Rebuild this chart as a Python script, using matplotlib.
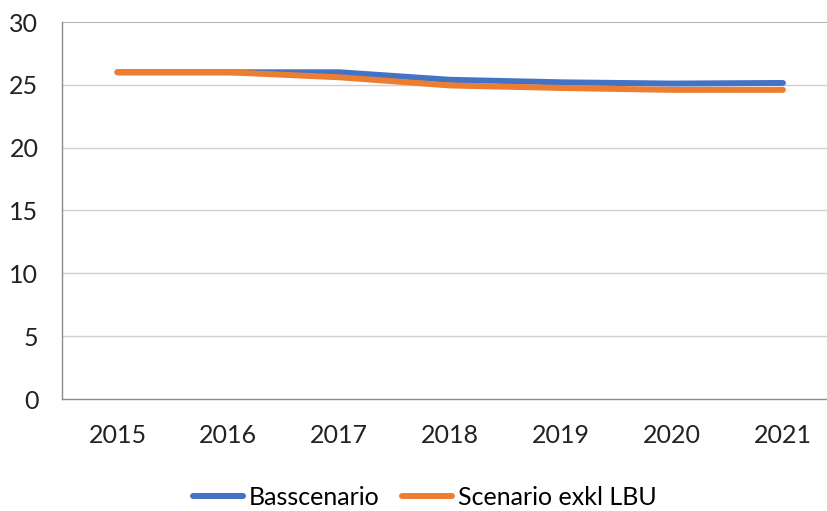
import matplotlib
matplotlib.use("Agg")
import matplotlib.pyplot as plt
from matplotlib.lines import Line2D

years = ["2015", "2016", "2017", "2018", "2019", "2020", "2021"]
basscenario = [26.0, 26.0, 26.0, 25.4, 25.2, 25.1, 25.15]
exkl_lbu = [26.0, 26.0, 25.6, 24.95, 24.75, 24.6, 24.6]
yticks = [0, 5, 10, 15, 20, 25, 30]

plt.rcParams['font.family'] = ['Lato', 'DejaVu Sans']

fig = plt.figure(figsize=(8.27, 5.11), dpi=100)
ax = fig.add_axes([62/827, (511-399)/511, 776.4/827, 377/511])

x = list(range(len(years)))
ax.plot(x, basscenario, color='#4472C4', lw=4.3, solid_capstyle='round', zorder=3)
ax.plot(x, exkl_lbu, color='#ED7D31', lw=4.3, solid_capstyle='round', zorder=4)

fs = 18
ax.set_xlim(-0.5, len(years) - 0.5)
ax.set_ylim(0, 30)
ax.set_yticks(yticks)
ax.set_yticklabels([str(v) for v in yticks], fontsize=fs, color='#222222')
ax.set_xticks(x)
ax.set_xticklabels(years, fontsize=fs, color='#222222')
ax.tick_params(axis='both', length=0)
ax.tick_params(axis='y', pad=17)
ax.tick_params(axis='x', pad=18)

for v in yticks[1:-1]:
    ax.axhline(v, color='#d0d0d0', lw=1.0, zorder=1)
ax.axhline(30, color='#a6a6a6', lw=1.2, zorder=1)

for s in ['top', 'right']:
    ax.spines[s].set_visible(False)
ax.spines['left'].set_color('#8c8c8c')
ax.spines['bottom'].set_color('#8c8c8c')
ax.spines['left'].set_linewidth(1.0)
ax.spines['bottom'].set_linewidth(1.0)

handles = [Line2D([0], [0], color='#4472C4', lw=4.3, solid_capstyle='round'),
           Line2D([0], [0], color='#ED7D31', lw=4.3, solid_capstyle='round')]
fig.legend(handles, ["Basscenario", "Scenario exkl LBU"], loc='center',
           bbox_to_anchor=(425/827, 1 - 497/511), ncol=2, frameon=False,
           fontsize=fs, handlelength=2.0, handletextpad=0.25, columnspacing=0.9,
           borderpad=0.1)

fig.savefig("out.png", dpi=100)
